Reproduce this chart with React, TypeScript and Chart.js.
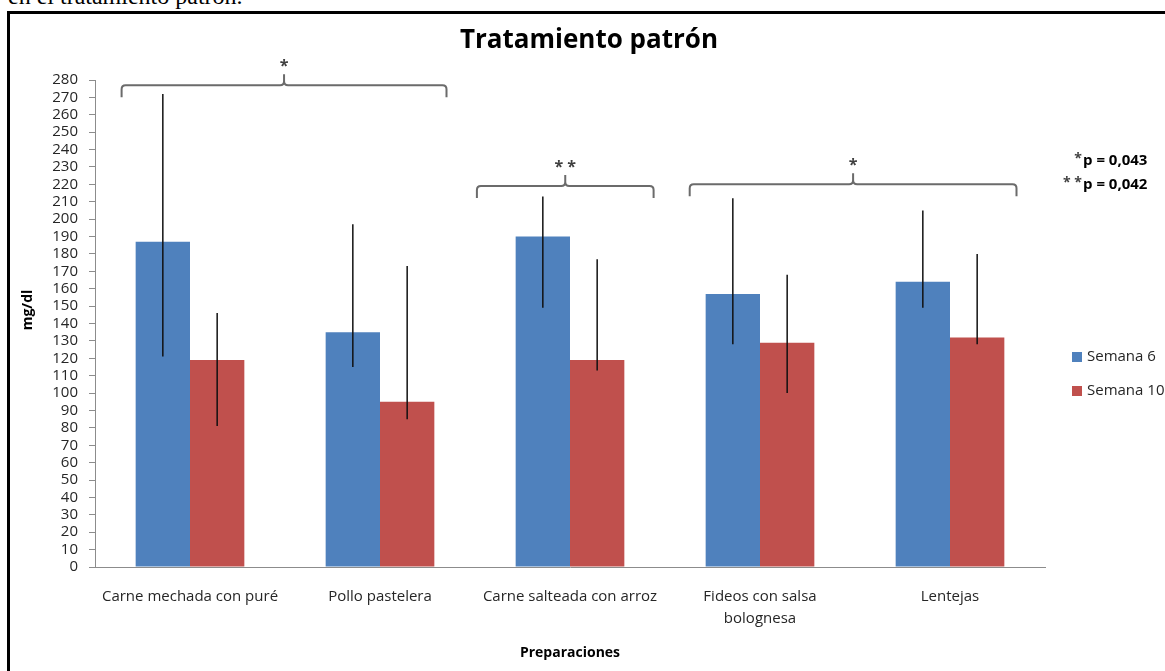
import React, { useEffect, useRef } from "react";
import { Chart, registerables } from "chart.js";

Chart.register(...registerables);

// ---- data ----
const categories: (string | string[])[] = [
  "Carne mechada con puré",
  "Pollo pastelera",
  "Carne salteada con arroz",
  ["Fideos con salsa", "bolognesa"],
  "Lentejas",
];
const seriesNames = ["Semana 6", "Semana 10"];
const seriesColors = ["#4F81BD", "#C0504D"];
const semana6 = [187, 135, 190, 157, 164];
const semana10 = [119, 95, 119, 129, 132];
const semana6Low = [121, 115, 149, 128, 149];
const semana6High = [272, 197, 213, 212, 205];
const semana10Low = [81, 85, 113, 100, 128];
const semana10High = [146, 173, 177, 168, 180];
const yMin = 0;
const yMax = 280;
const yStep = 10;

// significance braces (category index range, level in mg/dl)
const braceFrom = [-0.36, 1.51, 2.63];
const braceTo = [1.35, 2.44, 4.35];
const braceLevel = [277, 219, 220];
const braceMarks = ["*", "**", "*"];

const pStars = ["*", "**"];
const pTexts = ["p = 0,043", "p = 0,042"];

const chartTitle = "Tratamiento patrón";
const yTitle = "mg/dl";
const xTitle = "Preparaciones";
const captionText = "en el tratamiento patrón.";

const FONT = '"Open Sans", "Liberation Sans", sans-serif';
const TEXT = "#262626";

const annotations = {
  id: "annotations",
  afterDatasetsDraw(chart: any) {
    const { ctx, scales } = chart;
    const x = scales.x;
    const y = scales.y;
    const lows = [semana6Low, semana10Low];
    const highs = [semana6High, semana10High];
    ctx.save();

    // error bars
    ctx.strokeStyle = "#111";
    ctx.lineWidth = 1.5;
    for (let d = 0; d < 2; d++) {
      const meta = chart.getDatasetMeta(d);
      meta.data.forEach((bar: any, i: number) => {
        ctx.beginPath();
        ctx.moveTo(bar.x, y.getPixelForValue(lows[d][i]));
        ctx.lineTo(bar.x, y.getPixelForValue(highs[d][i]));
        ctx.stroke();
      });
    }

    // braces
    ctx.strokeStyle = "#6b6b6b";
    ctx.lineWidth = 2;
    const drop = 12;
    const rise = 11;
    const r = 4;
    braceFrom.forEach((f, k) => {
      const x1 = x.getPixelForValue(f);
      const x2 = x.getPixelForValue(braceTo[k]);
      const xc = (x1 + x2) / 2;
      const by = y.getPixelForValue(braceLevel[k]);
      ctx.beginPath();
      ctx.moveTo(x1, by + drop);
      ctx.lineTo(x1, by + r);
      ctx.quadraticCurveTo(x1, by, x1 + r, by);
      ctx.lineTo(xc - r, by);
      ctx.quadraticCurveTo(xc, by, xc, by - r);
      ctx.lineTo(xc, by - rise);
      ctx.moveTo(xc, by - r);
      ctx.quadraticCurveTo(xc, by, xc + r, by);
      ctx.lineTo(x2 - r, by);
      ctx.quadraticCurveTo(x2, by, x2, by + r);
      ctx.lineTo(x2, by + drop);
      ctx.stroke();
      ctx.fillStyle = "#404040";
      ctx.font = `bold 16px ${FONT}`;
      ctx.textAlign = "center";
      ctx.textBaseline = "alphabetic";
      const mark = braceMarks[k].split("").join(" ");
      ctx.fillText(mark, xc, by - rise - 3);
    });

    // title
    ctx.fillStyle = "#000";
    ctx.font = `bold 26px ${FONT}`;
    ctx.textAlign = "center";
    ctx.textBaseline = "alphabetic";
    ctx.fillText(chartTitle, 589, 48);

    // y title
    ctx.save();
    ctx.translate(28, 310);
    ctx.rotate(-Math.PI / 2);
    ctx.font = `bold 14px ${FONT}`;
    ctx.fillStyle = "#000";
    ctx.textAlign = "center";
    ctx.textBaseline = "middle";
    ctx.fillText(yTitle, 0, 0);
    ctx.restore();

    // p-values
    pTexts.forEach((t, k) => {
      const cy = 161 + k * 24;
      ctx.font = `bold 15px ${FONT}`;
      ctx.fillStyle = "#000";
      ctx.textAlign = "left";
      ctx.textBaseline = "middle";
      ctx.fillText(t, 1083, cy);
      ctx.font = `bold 14px ${FONT}`;
      ctx.fillStyle = "#404040";
      ctx.textAlign = "right";
      ctx.fillText(pStars[k].split("").join(" "), 1082, cy - 2);
    });

    // legend
    seriesNames.forEach((name, k) => {
      const cy = 357 + k * 34;
      ctx.fillStyle = seriesColors[k];
      ctx.fillRect(1072, cy - 5, 10, 10);
      ctx.fillStyle = TEXT;
      ctx.font = `15px ${FONT}`;
      ctx.textAlign = "left";
      ctx.textBaseline = "middle";
      ctx.fillText(name, 1087, cy);
    });

    ctx.restore();
  },
};

export default function App() {
  const ref = useRef<HTMLCanvasElement | null>(null);

  useEffect(() => {
    if (!ref.current) return;
    const chart = new Chart(ref.current, {
      type: "bar",
      data: {
        labels: categories as any,
        datasets: [
          {
            label: seriesNames[0],
            data: semana6,
            backgroundColor: seriesColors[0],
            borderWidth: 0,
            categoryPercentage: 0.572,
            barPercentage: 1,
          },
          {
            label: seriesNames[1],
            data: semana10,
            backgroundColor: seriesColors[1],
            borderWidth: 0,
            categoryPercentage: 0.572,
            barPercentage: 1,
          },
        ],
      },
      options: {
        responsive: false,
        animation: false,
        layout: { padding: { left: 0, right: 120, top: 80, bottom: 0 } },
        plugins: {
          legend: { display: false },
          title: { display: false },
          tooltip: { enabled: false },
        },
        scales: {
          x: {
            grid: { display: true, drawOnChartArea: false, drawTicks: false },
            border: { display: true, color: "#8c8c8c", width: 1 },
            ticks: {
              color: TEXT,
              font: { family: FONT, size: 15, lineHeight: 1.45 },
              padding: 19,
              maxRotation: 0,
              autoSkip: false,
            },
            title: {
              display: true,
              text: xTitle,
              color: "#000",
              font: { family: FONT, size: 14, weight: "bold", lineHeight: 1.2 },
              padding: { top: 0, bottom: 9.6 },
            },
            afterFit: (s: any) => {
              s.height = 104;
            },
          },
          y: {
            min: yMin,
            max: yMax,
            grid: {
              display: true,
              drawOnChartArea: false,
              drawTicks: true,
              tickLength: 6,
              color: "#8c8c8c",
            },
            border: { display: true, color: "#8c8c8c", width: 1 },
            ticks: {
              stepSize: yStep,
              color: TEXT,
              font: { family: FONT, size: 15, lineHeight: 1 },
              padding: 11,
              autoSkip: false,
            },
            afterFit: (s: any) => {
              s.width = 95;
            },
          },
        },
      },
      plugins: [annotations],
    } as any);
    return () => chart.destroy();
  }, []);

  return (
    <div
      style={{
        position: "fixed",
        left: 0,
        top: 0,
        width: 1165,
        height: 671,
        background: "#fff",
        overflow: "hidden",
      }}
    >
      <div
        style={{
          position: "absolute",
          left: 8,
          top: -16,
          fontFamily: '"Liberation Serif", "Times New Roman", serif',
          fontSize: 24,
          lineHeight: "24px",
          whiteSpace: "nowrap",
          color: "#000",
        }}
      >
        {captionText}
      </div>
      <div
        style={{
          position: "absolute",
          left: 7,
          top: 11,
          width: 1300,
          height: 800,
          border: "3px solid #000",
          boxSizing: "border-box",
        }}
      />
      <canvas
        ref={ref}
        width={1165}
        height={671}
        style={{ position: "absolute", left: 0, top: 0, width: 1165, height: 671 }}
      />
    </div>
  );
}
